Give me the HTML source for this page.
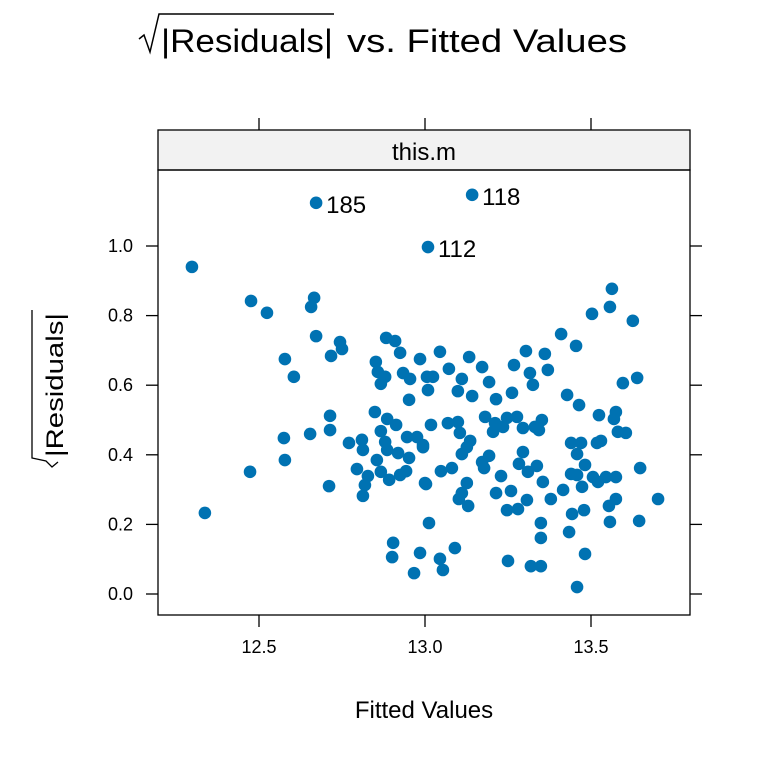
<!DOCTYPE html>
<html><head><meta charset="utf-8"><style>
html,body{margin:0;padding:0;background:#fff;width:768px;height:768px;overflow:hidden}
svg text{font-family:"Liberation Sans",sans-serif;fill:#000}
</style></head><body>
<svg id="c" width="768" height="768" xmlns="http://www.w3.org/2000/svg">
<g>
<polyline points="139,39 144,35 150,52 159,14 334,14" fill="none" stroke="#000" stroke-width="1.5"/>
<text x="161" y="52" font-size="32" textLength="172" lengthAdjust="spacingAndGlyphs">|Residuals|</text>
<text x="347" y="52" font-size="32" textLength="280" lengthAdjust="spacingAndGlyphs">vs. Fitted Values</text>
</g>
<rect x="158" y="130" width="532" height="40" fill="#f2f2f2" stroke="#000" stroke-width="1.3"/>
<text x="424" y="160" font-size="24" text-anchor="middle">this.m</text>
<rect x="158" y="170" width="532" height="445" fill="none" stroke="#000" stroke-width="1.3"/>
<g id="axes"></g>
<g id="pts"></g>
<text x="424" y="718" font-size="24" text-anchor="middle">Fitted Values</text>
<g>
<polyline points="32,310 32,458 46,461 52,467 58,462" fill="none" stroke="#000" stroke-width="1.3"/>
<text transform="translate(63,457) rotate(-90)" x="0" y="0" font-size="24" textLength="144" lengthAdjust="spacingAndGlyphs">|Residuals|</text>
</g>
</svg>
<script>
const xTicks=[12.5,13.0,13.5];
const xTickLabels=["12.5","13.0","13.5"];
const yTicks=[0,0.2,0.4,0.6,0.8,1.0];
const yTickLabels=["0.0","0.2","0.4","0.6","0.8","1.0"];
const fitted=[12.672,13.142,13.009,12.298,12.476,12.524,12.666,12.657,12.672,12.744,12.750,12.717,12.578,12.605,12.883,12.910,12.925,12.852,12.858,12.880,12.867,12.934,12.955,12.985,12.952,12.714,12.849,12.886,12.913,12.714,12.654,12.575,12.867,12.771,12.810,12.813,12.880,12.886,12.946,12.976,12.994,12.919,12.952,12.855,12.578,12.795,12.828,12.867,12.892,12.925,12.943,12.819,12.813,12.711,12.473,12.337,12.904,12.901,12.985,12.967,13.000,13.012,13.563,13.557,13.503,13.626,13.410,13.455,13.045,13.133,13.072,13.172,13.268,13.304,13.361,13.316,13.370,13.325,13.111,13.099,13.142,13.193,13.214,13.262,13.006,13.024,13.009,13.428,13.464,13.596,13.639,13.524,13.575,13.569,13.581,13.605,13.018,13.069,13.099,13.105,13.136,13.126,13.111,13.181,13.211,13.205,13.247,13.277,13.235,13.295,13.331,13.352,13.343,12.994,13.440,13.470,13.458,13.518,13.530,13.295,13.193,13.172,13.178,13.283,13.310,13.337,13.048,13.081,13.482,13.440,13.458,13.473,13.506,13.521,13.545,13.575,13.648,13.003,13.126,13.111,13.102,13.130,13.229,13.214,13.259,13.307,13.355,13.416,13.379,13.247,13.280,13.575,13.554,13.702,13.443,13.479,13.557,13.645,13.349,13.434,13.349,13.090,13.045,13.054,13.250,13.319,13.349,13.482,13.458];
const sqrtResid=[1.124,1.147,0.997,0.940,0.842,0.808,0.851,0.825,0.741,0.724,0.704,0.684,0.675,0.624,0.736,0.727,0.693,0.667,0.638,0.624,0.604,0.635,0.618,0.675,0.558,0.512,0.523,0.503,0.486,0.471,0.460,0.448,0.468,0.434,0.443,0.414,0.437,0.414,0.451,0.451,0.422,0.405,0.391,0.385,0.385,0.359,0.339,0.351,0.328,0.342,0.353,0.313,0.282,0.310,0.351,0.233,0.147,0.106,0.118,0.060,0.319,0.204,0.877,0.825,0.805,0.785,0.747,0.713,0.696,0.681,0.647,0.652,0.658,0.698,0.690,0.635,0.644,0.601,0.618,0.583,0.569,0.609,0.560,0.578,0.624,0.624,0.586,0.572,0.543,0.606,0.621,0.514,0.523,0.503,0.466,0.463,0.486,0.491,0.494,0.463,0.440,0.422,0.402,0.509,0.491,0.466,0.506,0.509,0.480,0.477,0.480,0.500,0.471,0.428,0.434,0.434,0.402,0.434,0.440,0.408,0.397,0.379,0.362,0.374,0.351,0.368,0.353,0.362,0.371,0.345,0.342,0.308,0.336,0.322,0.336,0.336,0.362,0.316,0.319,0.290,0.273,0.253,0.339,0.290,0.296,0.270,0.322,0.299,0.273,0.241,0.244,0.273,0.253,0.273,0.230,0.241,0.207,0.210,0.204,0.178,0.161,0.132,0.101,0.069,0.095,0.080,0.080,0.115,0.020];
const labelIdx=[0,1,2];
const labelText=["185","118","112"];

const NS="http://www.w3.org/2000/svg";
const X=v=>259+(v-12.5)*332;
const Y=v=>594-v*348;
function mk(t,a,p){const e=document.createElementNS(NS,t);for(const k in a)e.setAttribute(k,a[k]);p.appendChild(e);return e;}
const axes=document.getElementById('axes');
xTicks.forEach((v,i)=>{
  const b=mk('line',{x1:X(v),x2:X(v),y1:615,y2:627,stroke:'#000','stroke-width':1.3},axes);
  
  
  const t=mk('line',{x1:X(v),x2:X(v),y1:118,y2:130,stroke:'#000','stroke-width':1.3},axes);
  
  
  const l=mk('text',{x:X(v),y:653,'font-size':18,'text-anchor':'middle'},axes);
  l.textContent=xTickLabels[i];
  
  
});
yTicks.forEach((v,i)=>{
  const a=mk('line',{x1:146,x2:158,y1:Y(v),y2:Y(v),stroke:'#000','stroke-width':1.3},axes);
  
  
  const b=mk('line',{x1:690,x2:702,y1:Y(v),y2:Y(v),stroke:'#000','stroke-width':1.3},axes);
  
  
  const l=mk('text',{x:133,y:Y(v)+6,'font-size':18,'text-anchor':'end'},axes);
  l.textContent=yTickLabels[i];
  
  
});
const pts=document.getElementById('pts');
fitted.forEach((v,i)=>{
  const c=mk('circle',{cx:X(v),cy:Y(sqrtResid[i]),r:6.3,fill:'#0072b2'},pts);
  
  
});
labelIdx.forEach((k,i)=>{
  const t=mk('text',{x:X(fitted[k])+10,y:Y(sqrtResid[k])+10,'font-size':24},pts);
  t.textContent=labelText[i];
  
  
});
</script>
</body></html>
